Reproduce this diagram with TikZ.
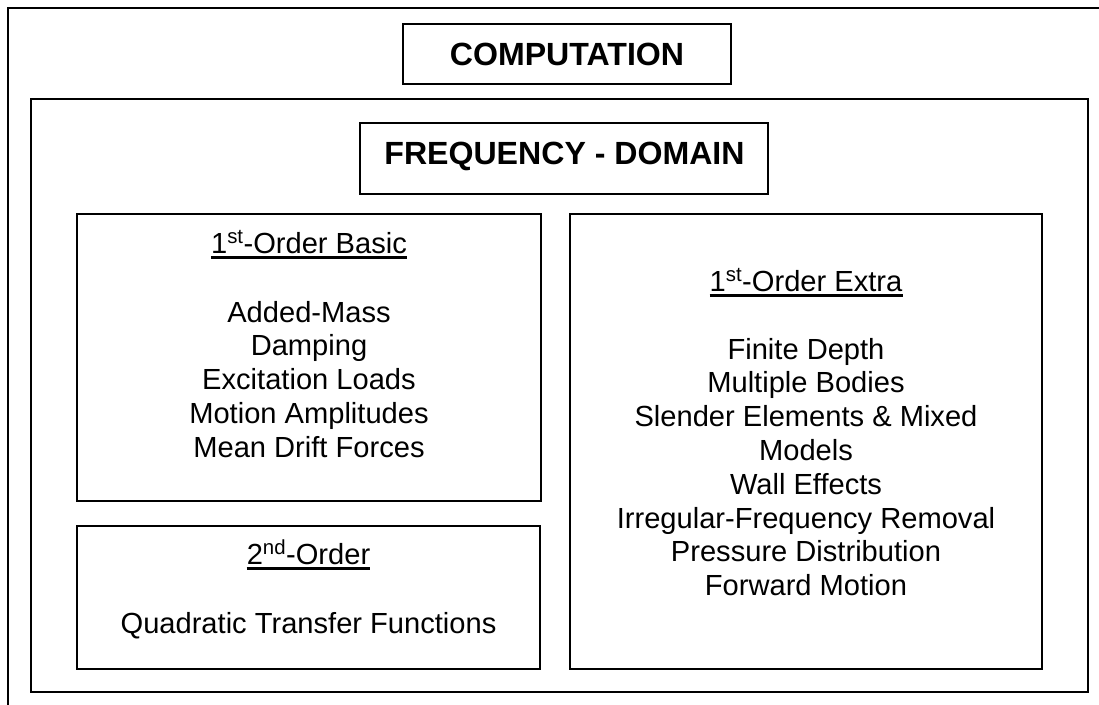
\documentclass[tikz,border=0pt]{standalone}
\usepackage{fontspec}
\setmainfont{Liberation Sans}
\newcommand\itemfont{\fontsize{29.1}{33.8}\selectfont}
\newcommand\headfont{\fontsize{32.1}{36}\selectfont\bfseries}
\tikzset{
  panel/.style={draw=black, line width=1.6pt, inner sep=0pt},
  headtext/.style={font=\headfont, inner sep=0pt, anchor=base},
  item/.style={font=\itemfont, inner sep=0pt, anchor=base},
  ruleline/.style={line width=2.2pt},
}
\begin{document}
\begin{tikzpicture}[x=1pt, y=-1pt]
  \useasboundingbox (0,0) rectangle (1099,704);
  \clip (0,0) rectangle (1099,704);
  \fill[white] (0,0) rectangle (1099,704);

  % outermost frame (runs past the page on the right and bottom)
  \draw[line width=1.6pt] (8,8) rectangle (1130,740);

  % title of the outer frame
  \node[panel, minimum width=328pt, minimum height=60pt] (compbox) at (567,54) {};
  \node[headtext] (comptext) at (567,65) {COMPUTATION};

  % frequency-domain frame
  \node[panel, minimum width=1057pt, minimum height=593pt] (freqframe) at (559.5,395.5) {};
  \node[panel, minimum width=408pt, minimum height=71pt] (freqbox) at (564,158.5) {};
  \node[headtext] (freqtext) at (564.5,164.3) {FREQUENCY - DOMAIN};

  % inner panels
  \node[panel, minimum width=464pt, minimum height=287pt] (basic) at (309,357.5) {};
  \node[panel, minimum width=463pt, minimum height=143pt] (second) at (308.5,597.5) {};
  \node[panel, minimum width=472pt, minimum height=455pt] (extra) at (806,441.5) {};

  % panel headings, underlined
  \node[item] (basicttl) at (309,253) {1\textsuperscript{st}-Order Basic};
  \node[item] (extrattl) at (806,291) {1\textsuperscript{st}-Order Extra};
  \node[item] (secondttl) at (308.5,564) {2\textsuperscript{nd}-Order};
  \foreach \t in {basicttl, extrattl, secondttl}
    \draw[ruleline] ([yshift=-4.5pt]\t.base west) -- ([yshift=-4.5pt]\t.base east);

  % first-order basic quantities
  \foreach \s [count=\k from 0] in {Added-Mass, Damping, Excitation Loads,
      Motion Amplitudes, Mean Drift Forces}
    \node[item] (basic\k) at (309, 322+33.8*\k) {\s};

  % first-order extra capabilities
  \foreach \s [count=\k from 0] in {Finite Depth, Multiple Bodies,
      Slender Elements \& Mixed, Models, Wall Effects,
      Irregular-Frequency Removal, Pressure Distribution, Forward Motion}
    \node[item] (extra\k) at (806, 359+33.8*\k) {\s};

  % second-order quantities
  \node[item] (second0) at (308.5,633) {Quadratic Transfer Functions};
\end{tikzpicture}
\end{document}
